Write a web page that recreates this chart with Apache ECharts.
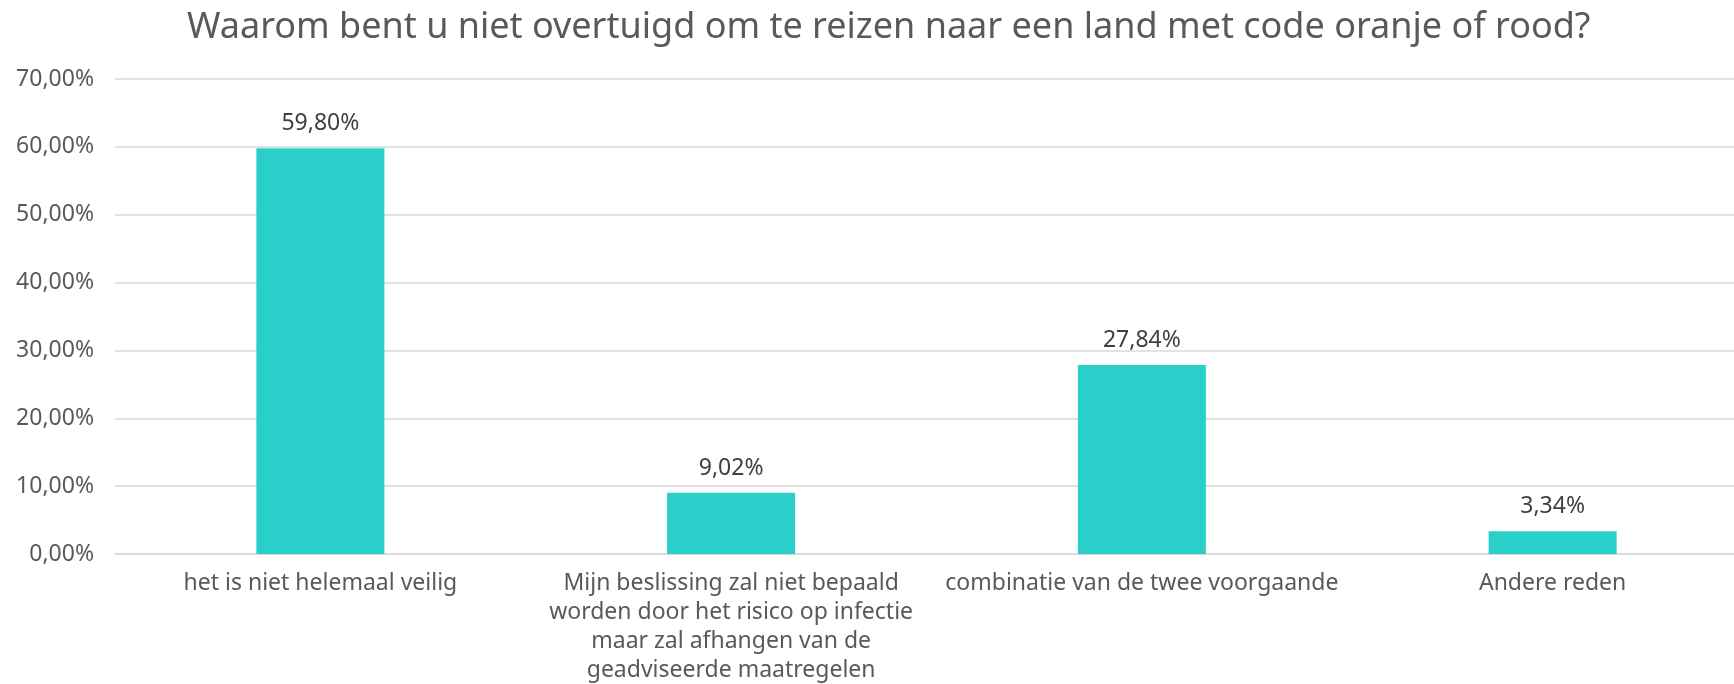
<!DOCTYPE html>
<html>
<head>
<meta charset="utf-8">
<script src="https://cdn.jsdelivr.net/npm/echarts@6/dist/echarts.min.js"></script>
<style>
html,body{margin:0;padding:0;background:#fff;}
#chart{width:1734px;height:684px;}
</style>
</head>
<body>
<div id="chart"></div>
<script>
const titleText = 'Waarom bent u niet overtuigd om te reizen naar een land met code oranje of rood?';
const categories = [
  'het is niet helemaal veilig',
  'Mijn beslissing zal niet bepaald\nworden door het risico op infectie\nmaar zal afhangen van de\ngeadviseerde maatregelen',
  'combinatie van de twee voorgaande',
  'Andere reden'
];
const values = [59.80, 9.02, 27.84, 3.34];
const yTicks = [0, 10, 20, 30, 40, 50, 60, 70];

const fmt = v => v.toFixed(2).replace('.', ',') + '%';
const FONT = '"Noto Sans", "Open Sans", sans-serif';

const chart = echarts.init(document.getElementById('chart'));
chart.setOption({
  backgroundColor: '#ffffff',
  animation: false,
  title: {
    text: titleText,
    left: 182,
    top: 5,
    textStyle: { fontFamily: FONT, fontSize: 36, fontWeight: 'normal', color: '#595959' }
  },
  grid: { left: 115, width: 1643, top: 79, bottom: 130, containLabel: false, outerBoundsMode: 'none' },
  xAxis: {
    type: 'category',
    data: categories,
    axisLine: { show: true, lineStyle: { color: '#d9d9d9', width: 1.5 } },
    axisTick: { show: false },
    axisLabel: {
      interval: 0,
      margin: 15,
      fontFamily: FONT,
      fontSize: 23,
      lineHeight: 29,
      color: '#595959',
      align: 'center'
    }
  },
  yAxis: {
    type: 'value',
    min: yTicks[0],
    max: yTicks[yTicks.length - 1],
    interval: 10,
    axisLine: { show: false },
    axisTick: { show: false },
    splitLine: { lineStyle: { color: '#d9d9d9', width: 1.5 } },
    axisLabel: {
      margin: 21,
      fontFamily: FONT,
      fontSize: 23,
      color: '#595959',
      formatter: v => fmt(v)
    }
  },
  series: [{
    type: 'bar',
    data: values,
    barWidth: 128,
    itemStyle: { color: '#29CFC8' },
    label: {
      show: true,
      position: 'top',
      distance: 13,
      fontFamily: FONT,
      fontSize: 23,
      color: '#404040',
      formatter: p => fmt(p.value)
    }
  }]
});
</script>
</body>
</html>
